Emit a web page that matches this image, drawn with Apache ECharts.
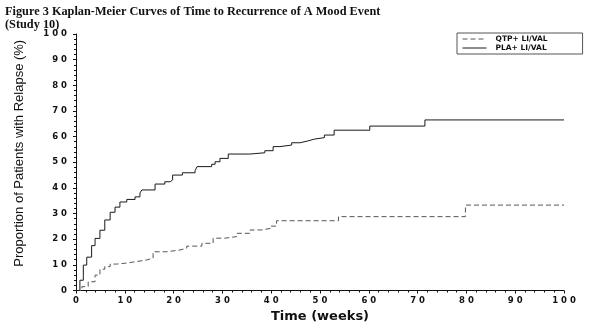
<!DOCTYPE html>
<html>
<head>
<meta charset="utf-8">
<script src="https://cdn.jsdelivr.net/npm/echarts@6/dist/echarts.min.js"></script>
<style>
  html, body { margin: 0; padding: 0; background: #fff; }
  #chart { width: 597px; height: 334px; }
</style>
</head>
<body>
<div id="chart"></div>
<script>
// Kaplan-Meier estimates: cumulative % relapsed at each event time (weeks)
const qtpWeeks = [0, 1.2, 2.5, 3.9, 4.9, 5.9, 7.0, 8.3, 10.0, 12.1, 14.5, 15.8, 18.6, 21.3, 22.7, 25.8, 28.1, 30.5, 32.9, 35.7, 38.1, 39.8, 41.1, 53.8, 79.8, 100];
const qtpPct   = [0, 1.5, 3.4, 6.0, 8.3, 9.3, 10.3, 10.6, 11.2, 11.9, 12.6, 15.1, 15.8, 16.5, 17.3, 18.4, 20.4, 21.0, 22.3, 23.6, 24.2, 25.1, 27.2, 28.8, 33.3, 33.3];

const plaWeeks = [0, 0.8, 1.5, 2.2, 3.2, 3.9, 4.9, 5.9, 7.0, 8.0, 9.0, 10.4, 12.1, 13.1, 13.5, 16.2, 18.2, 19.3, 19.8, 21.8, 24.4, 24.8, 27.8, 28.5, 29.5, 31.2, 35.7, 38.7, 40.4, 41.8, 44.2, 45.9, 47.5, 48.8, 50.9, 52.9, 60.2, 71.5, 100];
const plaPct   = [0, 4.0, 9.9, 13.0, 17.5, 20.3, 23.5, 27.5, 30.5, 32.5, 34.5, 35.5, 36.5, 38.0, 39.2, 41.5, 42.4, 43.1, 45.0, 45.9, 46.7, 48.3, 49.2, 50.2, 51.5, 53.2, 53.7, 54.5, 56.1, 56.7, 57.6, 58.3, 59.0, 59.6, 60.6, 62.5, 64.1, 66.5, 66.5];

const seriesNames = ['QTP+ LI/VAL', 'PLA+ LI/VAL'];
const titleLines = ['Figure 3 Kaplan-Meier Curves of Time to Recurrence of A Mood Event', '(Study 10)'];
const xTitle = 'Time (weeks)';
const yTitle = 'Proportion of Patients with Relapse (%)';

const pairs = (xs, ys) => xs.map((x, i) => [x, ys[i]]);
const spaced = v => String(v).split('').join(' ');

const tickFont = { fontFamily: 'DejaVu Sans', fontWeight: 'bold', fontSize: 8.5, color: '#111' };
const clear = 'rgba(0,0,0,0)';

const chart = echarts.init(document.getElementById('chart'), null, { renderer: 'canvas' });
chart.setOption({
  animation: false,
  backgroundColor: '#fff',
  title: {
    text: titleLines.join('\n'),
    left: 0, top: 0,
    textStyle: { fontFamily: 'Liberation Serif', fontWeight: 'bold', fontSize: 12.3, lineHeight: 13, color: '#111' }
  },
  legend: {
    orient: 'vertical',
    left: 457, top: 33,
    padding: [2, 35, 2, 5],
    itemGap: 1,
    itemWidth: 24, itemHeight: 7,
    borderColor: '#555', borderWidth: 1,
    itemStyle: { color: clear, borderColor: clear, borderWidth: 0 },
    lineStyle: { width: 1 },
    textStyle: { fontFamily: 'DejaVu Sans', fontWeight: 'bold', fontSize: 7.5, color: '#111', padding: [0, 0, 0, 4] },
    data: seriesNames
  },
  grid: { left: 76, right: 33, top: 34, bottom: 43.5, containLabel: false },
  xAxis: {
    type: 'value', min: 0, max: 100, interval: 10,
    name: xTitle, nameLocation: 'middle', nameGap: 20,
    nameTextStyle: { fontFamily: 'DejaVu Sans', fontWeight: 'bold', fontSize: 13, color: '#111' },
    axisLine: { lineStyle: { color: '#111', width: 1 } },
    axisTick: { show: true, length: 3, lineStyle: { color: '#111' } },
    minorTick: { show: true, splitNumber: 5, length: 2, lineStyle: { color: '#111' } },
    splitLine: { show: false },
    axisLabel: Object.assign({ margin: 6, formatter: spaced }, tickFont)
  },
  yAxis: {
    type: 'value', min: 0, max: 100, interval: 10,
    name: yTitle, nameLocation: 'middle', nameGap: 50,
    nameTextStyle: { fontFamily: 'Liberation Sans', fontSize: 13, color: '#111', padding: [0, 0, 0, 18] },
    axisLine: { show: true, lineStyle: { color: '#111', width: 1 } },
    axisTick: { show: true, length: 3, lineStyle: { color: '#111' } },
    minorTick: { show: true, splitNumber: 5, length: 2, lineStyle: { color: '#111' } },
    splitLine: { show: false },
    axisLabel: Object.assign({ margin: 9, formatter: spaced }, tickFont)
  },
  series: [
    {
      name: seriesNames[0], type: 'line', step: 'end', symbol: 'none',
      data: pairs(qtpWeeks, qtpPct),
      lineStyle: { color: '#555', width: 1, type: [5, 3] },
      itemStyle: { color: '#555' }
    },
    {
      name: seriesNames[1], type: 'line', step: 'end', symbol: 'none',
      data: pairs(plaWeeks, plaPct),
      lineStyle: { color: '#1a1a1a', width: 1 },
      itemStyle: { color: '#1a1a1a' }
    }
  ]
});
</script>
</body>
</html>
